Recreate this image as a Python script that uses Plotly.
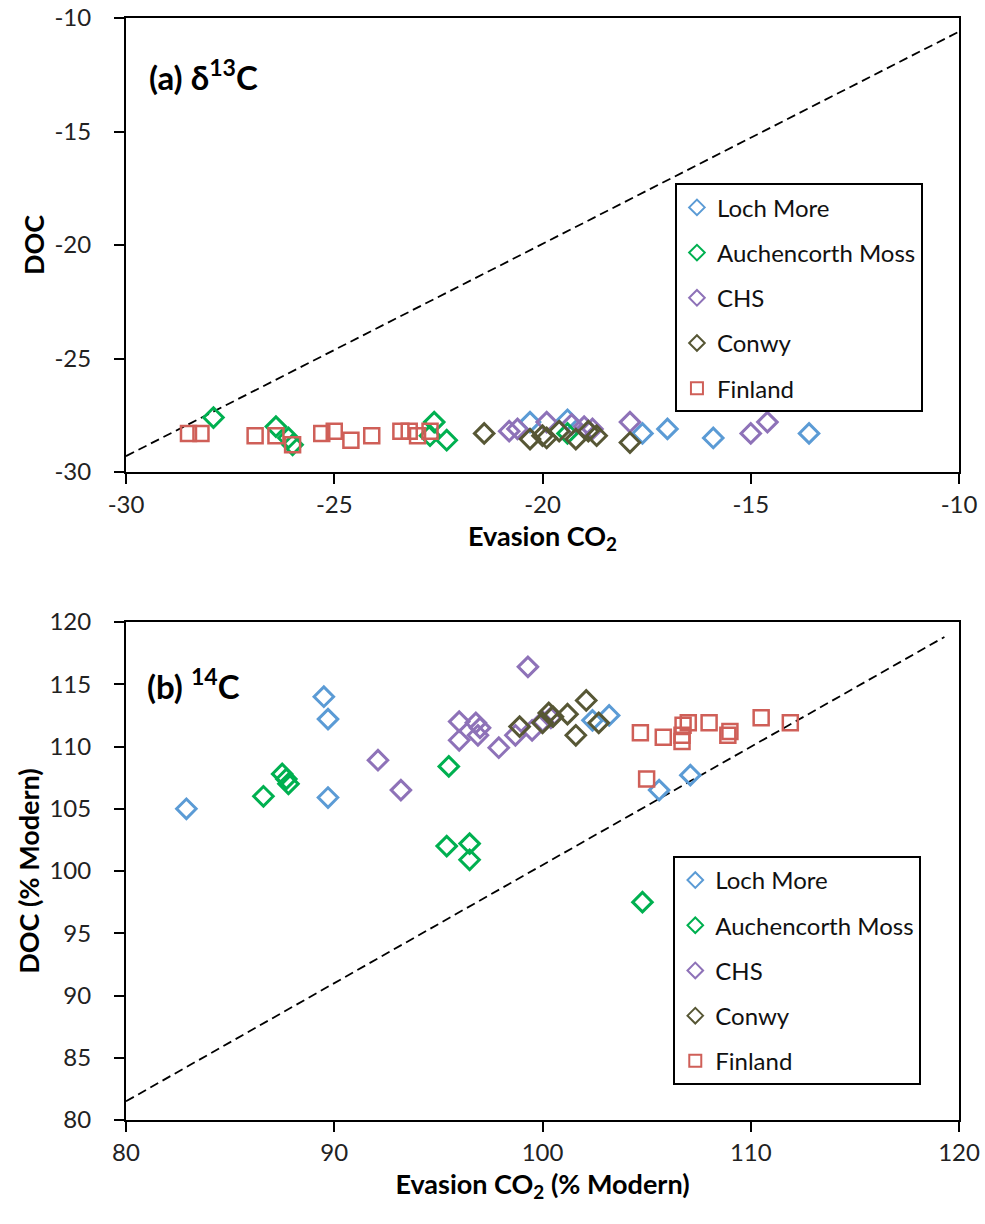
import plotly.graph_objects as go

# ---------------- Panel (a): delta 13C ----------------
loch_a_x = [-20.3, -19.4, -17.6, -17.0, -15.9, -13.6]
loch_a_y = [-27.8, -27.7, -28.3, -28.1, -28.5, -28.3]
auch_a_x = [-27.9, -26.4, -26.1, -26.0, -22.6, -22.7, -22.3, -19.4]
auch_a_y = [-27.6, -28.0, -28.5, -28.8, -27.8, -28.4, -28.6, -28.3]
chs_a_x = [-20.8, -20.6, -19.9, -19.3, -19.0, -18.8, -17.9, -15.0, -14.6]
chs_a_y = [-28.2, -28.1, -27.8, -27.9, -28.0, -28.1, -27.8, -28.3, -27.8]
conwy_a_x = [-21.4, -20.3, -20.0, -19.9, -19.6, -19.2, -18.9, -18.7, -17.9]
conwy_a_y = [-28.3, -28.55, -28.4, -28.5, -28.2, -28.55, -28.2, -28.4, -28.7]
fin_a_x = [-28.5, -28.2, -26.9, -26.4, -26.0, -25.3, -25.0, -24.6, -24.1, -23.4, -23.2, -23.0, -22.7]
fin_a_y = [-28.3, -28.3, -28.4, -28.4, -28.8, -28.3, -28.2, -28.6, -28.4, -28.2, -28.2, -28.4, -28.2]
line_a_x = [-30, -10]
line_a_y = [-29.3, -10.6]
ticks_a = [-30, -25, -20, -15, -10]
ticktext_a = ["-30", "-25", "-20", "-15", "-10"]

# ---------------- Panel (b): 14C ----------------
loch_b_x = [82.9, 89.5, 89.7, 89.7, 102.4, 103.2, 105.6, 107.1]
loch_b_y = [105.0, 114.0, 112.2, 105.9, 112.1, 112.5, 106.5, 107.7]
auch_b_x = [86.6, 87.5, 87.7, 87.8, 95.5, 95.4, 96.5, 96.5, 104.8]
auch_b_y = [106.0, 107.8, 107.4, 107.0, 108.4, 102.0, 102.2, 100.9, 97.5]
chs_b_x = [92.1, 93.2, 96.0, 96.0, 96.8, 97.0, 96.9, 97.9, 98.7, 99.5, 100.0, 100.4, 99.3]
chs_b_y = [108.9, 106.5, 112.0, 110.5, 111.9, 111.5, 110.9, 109.9, 110.9, 111.3, 112.0, 112.3, 116.4]
conwy_b_x = [98.9, 100.0, 100.3, 100.5, 101.2, 102.1, 101.6, 102.7]
conwy_b_y = [111.6, 111.9, 112.7, 112.4, 112.6, 113.7, 110.9, 111.9]
fin_b_x = [104.7, 105.8, 106.7, 106.75, 106.7, 107.0, 108.0, 109.0, 108.9, 110.5, 111.9, 105.0]
fin_b_y = [111.1, 110.75, 110.9, 111.7, 110.4, 111.9, 111.9, 111.2, 110.9, 112.3, 111.9, 107.4]
line_b_x = [80, 119.3]
line_b_y = [81.5, 118.8]

names = ["Loch More", "Auchencorth Moss", "CHS", "Conwy", "Finland"]
colors = ["#5B9BD5", "#00B050", "#8E72B8", "#575735", "#CF5F58"]
symbols = ["diamond-open", "diamond-open", "diamond-open", "diamond-open", "square-open"]
sizes = [15, 15, 15, 15, 15]
widths = [3, 3, 3, 3, 2.5]

data_a = [(loch_a_x, loch_a_y), (auch_a_x, auch_a_y), (chs_a_x, chs_a_y),
          (conwy_a_x, conwy_a_y), (fin_a_x, fin_a_y)]
data_b = [(loch_b_x, loch_b_y), (auch_b_x, auch_b_y), (chs_b_x, chs_b_y),
          (conwy_b_x, conwy_b_y), (fin_b_x, fin_b_y)]

FONT = "Lato"
fig = go.Figure()

fig.add_trace(go.Scatter(x=line_a_x, y=line_a_y, mode="lines", xaxis="x", yaxis="y",
                         line=dict(color="black", width=1.8, dash="9px,5px"),
                         showlegend=False, hoverinfo="skip"))
fig.add_trace(go.Scatter(x=line_b_x, y=line_b_y, mode="lines", xaxis="x2", yaxis="y2",
                         line=dict(color="black", width=1.8, dash="9px,5px"),
                         showlegend=False, hoverinfo="skip"))

for i, (xs, ys) in enumerate(data_a):
    fig.add_trace(go.Scatter(
        x=xs, y=ys, mode="markers", name=names[i], xaxis="x", yaxis="y",
        legend="legend", legendgroup="a%d" % i,
        marker=dict(symbol=symbols[i], size=sizes[i], color=colors[i],
                    line=dict(width=widths[i], color=colors[i]))))
for i, (xs, ys) in enumerate(data_b):
    fig.add_trace(go.Scatter(
        x=xs, y=ys, mode="markers", name=names[i], xaxis="x2", yaxis="y2",
        legend="legend2", legendgroup="b%d" % i,
        marker=dict(symbol=symbols[i], size=sizes[i], color=colors[i],
                    line=dict(width=widths[i], color=colors[i]))))

axis_common = dict(showline=True, linewidth=2, linecolor="black", mirror=True,
                   ticks="outside", ticklen=10, tickwidth=2, tickcolor="black",
                   showgrid=False, zeroline=False, automargin=False,
                   tickfont=dict(family=FONT, size=24, color="#222"))
title_font = dict(family=FONT, size=27, color="black")

leg_common = dict(font=dict(family=FONT, size=24, color="#111"),
                  bordercolor="black", borderwidth=2, bgcolor="white",
                  xanchor="left", yanchor="top", traceorder="grouped",
                  tracegroupgap=11, itemsizing="constant")

fig.update_layout(
    template="none",
    width=985, height=1224,
    margin=dict(l=126, r=26, t=18, b=104),
    paper_bgcolor="white", plot_bgcolor="white",
    xaxis=dict(domain=[0, 1], anchor="y", range=[-30, -10],
               tickvals=ticks_a, ticktext=ticktext_a, ticklabelstandoff=0,
               title=dict(text="<b>Evasion CO<sub>2</sub></b>", font=title_font, standoff=10),
               **axis_common),
    yaxis=dict(domain=[0.588, 1], anchor="x", range=[-30, -10],
               tickvals=ticks_a, ticktext=ticktext_a, ticklabelstandoff=18,
               title=dict(text="<b>DOC</b>", font=title_font, standoff=2),
               **axis_common),
    xaxis2=dict(domain=[0, 1], anchor="y2", range=[80, 120], dtick=10, ticklabelstandoff=0,
                title=dict(text="<b>Evasion CO<sub>2</sub> (% Modern)</b>", font=title_font,
                           standoff=10),
                **axis_common),
    yaxis2=dict(domain=[0, 0.4519], anchor="x2", range=[80, 120], dtick=5,
                ticklabelstandoff=18,
                title=dict(text="<b>DOC (% Modern)</b>", font=title_font, standoff=2),
                **axis_common),
    legend=dict(x=0.659, y=0.850, **leg_common),
    legend2=dict(x=0.657, y=0.2396, **leg_common),
    annotations=[
        dict(text="<b>(a) δ<sup>13</sup>C</b>", xref="x domain", yref="y domain",
             x=0.025, y=0.875, xanchor="left", yanchor="middle", showarrow=False,
             font=dict(family=FONT, size=33, color="black")),
        dict(text="<b>(b) <sup>14</sup>C</b>", xref="x2 domain", yref="y2 domain",
             x=0.023, y=0.875, xanchor="left", yanchor="middle", showarrow=False,
             font=dict(family=FONT, size=33, color="black")),
    ],
)

# remove the browser's default 8 px body margin so the figure fills the window
fig.write_html("out.html", config={"displayModeBar": False},
               post_script="document.body.style.margin='0';")
